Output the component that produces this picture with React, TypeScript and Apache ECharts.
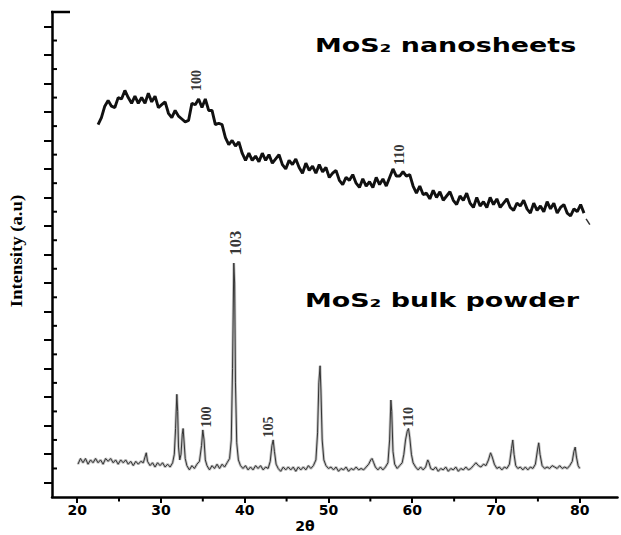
import React, { useEffect, useRef } from "react";
import * as echarts from "echarts";

// ---------- data ----------
const xMajorTicks = [20, 30, 40, 50, 60, 70, 80];
const xMinorTicks = [25, 35, 45, 55, 65, 75];
const yShortTicks = [20, 40, 60, 80, 100, 120, 140, 160, 180, 200, 220, 240, 260, 280, 300, 320];

// MoS2 nanosheets: 2θ sampled from nanoStart with nanoStep
const nanoStart = 22.5;
const nanoStep = 0.4;
const nanoIntensity = [
  261, 266, 274, 278, 274, 273, 280, 279, 285, 280, 276, 281, 276, 280, 276, 283, 277, 281, 273, 275,
  277, 269, 266, 271, 267, 265, 263, 264, 276, 275, 279, 273, 279, 271, 271, 261, 262, 261, 252, 247,
  250, 246, 249, 241, 236, 241, 236, 239, 235, 241, 236, 240, 234, 237, 240, 233, 230, 236, 233, 237,
  231, 227, 234, 229, 232, 227, 233, 228, 231, 224, 227, 229, 222, 219, 224, 222, 226, 220, 217, 223,
  218, 221, 217, 224, 219, 223, 218, 224, 230, 225, 225, 228, 225, 226, 218, 213, 218, 212, 213, 209,
  215, 210, 214, 208, 211, 214, 208, 205, 211, 208, 213, 206, 203, 210, 204, 207, 203, 210, 205, 209,
  203, 206, 209, 203, 201, 206, 204, 208, 202, 199, 206, 201, 204, 200, 207, 202, 206, 199, 203, 205,
  199, 197, 202, 200, 205, 199,
];
const nanoTail = [
  [80.75, 195],
  [81.2, 191],
];

// MoS2 bulk powder: [2θ, intensity]
const bulkPoints = [
  [20.1, 23], [20.4, 27], [20.7, 24], [21.0, 27], [21.3, 23], [21.6, 26], [21.9, 24], [22.2, 27], [22.5, 24],
  [22.8, 26], [23.1, 23], [23.4, 27], [23.7, 25], [24.0, 27], [24.3, 24], [24.6, 26], [24.9, 23], [25.2, 26],
  [25.5, 24], [25.8, 26], [26.1, 23], [26.4, 25], [26.7, 22], [27.0, 25], [27.3, 23], [27.6, 25], [27.9, 24],
  [28.1, 28], [28.25, 31], [28.4, 25], [28.7, 22], [29.0, 24], [29.3, 21], [29.6, 24], [29.9, 22], [30.2, 24],
  [30.5, 21], [30.8, 23], [31.1, 21], [31.4, 24], [31.6, 30], [31.75, 48], [31.9, 72], [32.0, 60], [32.1, 35],
  [32.25, 26], [32.4, 30], [32.55, 44], [32.65, 48], [32.75, 40], [32.9, 27], [33.1, 22], [33.4, 19], [33.7, 22],
  [34.0, 20], [34.3, 23], [34.6, 25], [34.85, 36], [35.0, 47], [35.15, 40], [35.3, 26], [35.5, 22], [35.8, 19],
  [36.1, 22], [36.4, 20], [36.7, 23], [37.0, 20], [37.3, 23], [37.6, 21], [37.9, 24], [38.2, 27], [38.4, 40],
  [38.55, 90], [38.7, 164], [38.8, 150], [38.9, 80], [39.05, 38], [39.25, 26], [39.5, 22], [39.8, 20], [40.1, 22],
  [40.4, 19], [40.7, 21], [41.0, 19], [41.3, 22], [41.6, 20], [41.9, 22], [42.2, 19], [42.5, 21], [42.8, 20],
  [43.05, 25], [43.25, 36], [43.4, 40], [43.55, 32], [43.75, 23], [44.0, 20], [44.3, 18], [44.6, 21], [44.9, 19],
  [45.2, 21], [45.5, 19], [45.8, 21], [46.1, 18], [46.4, 21], [46.7, 19], [47.0, 21], [47.3, 19], [47.6, 22],
  [47.9, 20], [48.2, 22], [48.5, 26], [48.7, 45], [48.85, 80], [49.0, 92], [49.1, 75], [49.25, 40], [49.45, 26],
  [49.7, 22], [50.0, 20], [50.3, 21], [50.6, 19], [50.9, 21], [51.2, 18], [51.5, 20], [51.8, 19], [52.1, 21],
  [52.4, 18], [52.7, 20], [53.0, 19], [53.3, 21], [53.6, 19], [53.9, 20], [54.2, 19], [54.5, 21], [54.8, 23],
  [55.05, 26], [55.2, 27], [55.4, 24], [55.6, 21], [55.9, 19], [56.2, 21], [56.5, 19], [56.8, 21], [57.1, 24],
  [57.3, 40], [57.45, 68], [57.55, 60], [57.7, 32], [57.9, 23], [58.2, 20], [58.5, 22], [58.8, 24], [59.0, 30],
  [59.2, 40], [59.4, 46], [59.55, 48], [59.7, 42], [59.9, 30], [60.1, 24], [60.4, 21], [60.7, 19], [61.0, 21],
  [61.3, 19], [61.6, 21], [61.85, 26], [62.0, 24], [62.2, 20], [62.5, 19], [62.8, 21], [63.1, 18], [63.4, 20],
  [63.7, 19], [64.0, 21], [64.3, 18], [64.6, 20], [64.9, 19], [65.2, 21], [65.5, 18], [65.8, 20], [66.1, 19],
  [66.4, 21], [66.7, 19], [67.0, 20], [67.3, 22], [67.6, 24], [67.9, 22], [68.2, 21], [68.5, 23], [68.8, 22],
  [69.1, 26], [69.35, 31], [69.55, 28], [69.8, 23], [70.1, 20], [70.4, 21], [70.7, 19], [71.0, 21], [71.3, 20],
  [71.6, 23], [71.85, 34], [72.0, 40], [72.15, 30], [72.35, 22], [72.6, 20], [72.9, 21], [73.2, 19], [73.5, 21],
  [73.8, 19], [74.1, 21], [74.4, 20], [74.7, 23], [74.95, 33], [75.1, 38], [75.25, 30], [75.5, 22], [75.8, 20],
  [76.1, 21], [76.4, 20], [76.7, 22], [77.0, 21], [77.3, 20], [77.6, 22], [77.9, 20], [78.2, 21], [78.5, 20],
  [78.8, 22], [79.1, 25], [79.3, 32], [79.45, 35], [79.6, 28], [79.8, 22], [80.0, 20],
];

// Miller-index labels: [2θ, intensity, text]
const nanoPeakLabels = [
  [34.3, 292, "100"],
  [58.5, 240, "110"],
];
const bulkPeakLabels = [
  [38.85, 178, "103"],
  [35.5, 56, "100"],
  [42.8, 49, "105"],
  [59.6, 56, "110"],
];

const titleNano = "MoS\u2082 nanosheets";
const titleBulk = "MoS\u2082 bulk powder";
const xName = "2\u03b8";
const yName = "Intensity (a.u)";

export default function App() {
  const ref = useRef<HTMLDivElement>(null);

  useEffect(() => {
    if (!ref.current) return;
    const chart = echarts.init(ref.current, undefined, { renderer: "svg" });

    const nanoData = nanoIntensity.map((v, i) => [+(nanoStart + i * nanoStep).toFixed(2), v]);

    const labelSeries = (arr: any[]) => ({
      type: "scatter",
      symbolSize: 0,
      silent: true,
      data: arr.map((l) => ({
        value: [l[0], l[1]],
        label: { formatter: l[2], fontSize: l[2] === "103" ? 16.5 : 14 },
      })),
      label: {
        show: true,
        position: "inside",
        rotate: 90,
        color: "#000",
        fontFamily: "Liberation Serif",
        fontWeight: "bold",
        fontSize: 14,
      },
    });

    // short tick marks drawn through the axis scales
    const tickSeries = (vals: number[], dir: "x" | "y", len: number) => ({
      type: "custom",
      silent: true,
      clip: false,
      z: 10,
      data: vals.map((v) => (dir === "x" ? [v, 0] : [17, v])),
      encode: { x: 0, y: 1 },
      renderItem: (params: any, api: any) => {
        const p = api.coord([api.value(0), api.value(1)]);
        const shape =
          dir === "x"
            ? { x1: p[0], y1: p[1], x2: p[0], y2: p[1] + len }
            : { x1: p[0], y1: p[1], x2: p[0] + len, y2: p[1] };
        return {
          type: "line",
          shape,
          style: { stroke: "#000", lineWidth: 2, fill: null },
        };
      },
    });

    chart.setOption({
      animation: false,
      backgroundColor: "#fff",
      grid: { left: 52, top: 12, right: 3.5, bottom: 38, containLabel: false },
      xAxis: {
        type: "value",
        min: 17,
        max: 84.5,
        position: "bottom",
        splitLine: { show: false },
        axisLine: { show: true, onZero: false, lineStyle: { color: "#000", width: 2.5 } },
        axisTick: { show: true, customValues: xMajorTicks, length: 6, lineStyle: { color: "#000", width: 2 } },
        axisLabel: {
          show: true,
          customValues: xMajorTicks,
          margin: 6,
          color: "#000",
          fontFamily: "DejaVu Sans",
          fontWeight: "bold",
          fontSize: 14,
        },
      },
      yAxis: {
        type: "value",
        min: 0,
        max: 340,
        interval: 20,
        position: "left",
        splitLine: { show: false },
        axisLabel: { show: false },
        axisLine: { show: true, onZero: false, lineStyle: { color: "#000", width: 2.5 } },
        axisTick: { show: false },
        minorTick: { show: true, splitNumber: 2, length: 8, lineStyle: { color: "#000", width: 2 } },
        minorSplitLine: { show: false },
      },
      series: [
        {
          type: "line",
          data: bulkPoints,
          showSymbol: false,
          silent: true,
          lineStyle: { color: "#c2c2c2", width: 2.8 },
        },
        {
          type: "line",
          data: bulkPoints,
          showSymbol: false,
          silent: true,
          lineStyle: { color: "#333", width: 1 },
        },
        {
          type: "line",
          data: nanoData,
          showSymbol: false,
          silent: true,
          lineStyle: { color: "#111", width: 2.9 },
        },
        {
          type: "line",
          data: nanoTail,
          showSymbol: false,
          silent: true,
          lineStyle: { color: "#333", width: 1.5 },
        },
        labelSeries(nanoPeakLabels),
        labelSeries(bulkPeakLabels),
        tickSeries(xMinorTicks, "x", 4.5),
        tickSeries(yShortTicks, "y", 5),
      ],
      graphic: [
        {
          type: "line",
          shape: { x1: 51, y1: 12, x2: 70, y2: 12 },
          style: { stroke: "#000", lineWidth: 2.5 },
        },
        {
          type: "text",
          x: 315,
          y: 45,
          scaleX: 1.38,
          style: {
            text: titleNano,
            x: 0,
            y: 0,
            textAlign: "left",
            textVerticalAlign: "middle",
            fontFamily: "DejaVu Sans",
            fontWeight: "bold",
            fontSize: 19.5,
            fill: "#000",
          },
        },
        {
          type: "text",
          x: 305,
          y: 300,
          scaleX: 1.38,
          style: {
            text: titleBulk,
            x: 0,
            y: 0,
            textAlign: "left",
            textVerticalAlign: "middle",
            fontFamily: "DejaVu Sans",
            fontWeight: "bold",
            fontSize: 19.5,
            fill: "#000",
          },
        },
        {
          type: "text",
          x: 16,
          y: 251,
          rotation: Math.PI / 2,
          scaleX: 1.17,
          style: {
            text: yName,
            x: 0,
            y: 0,
            textAlign: "center",
            textVerticalAlign: "middle",
            fontFamily: "Liberation Serif",
            fontWeight: "bold",
            fontSize: 16,
            fill: "#000",
          },
        },
        {
          type: "text",
          x: 305,
          y: 526,
          style: {
            text: xName,
            x: 0,
            y: 0,
            textAlign: "center",
            textVerticalAlign: "middle",
            fontFamily: "DejaVu Sans",
            fontWeight: "bold",
            fontSize: 14,
            fill: "#000",
          },
        },
      ],
    });

    return () => chart.dispose();
  }, []);

  return (
    <div
      ref={ref}
      style={{ position: "absolute", left: 0, top: 0, width: 621, height: 535, background: "#fff" }}
    />
  );
}
